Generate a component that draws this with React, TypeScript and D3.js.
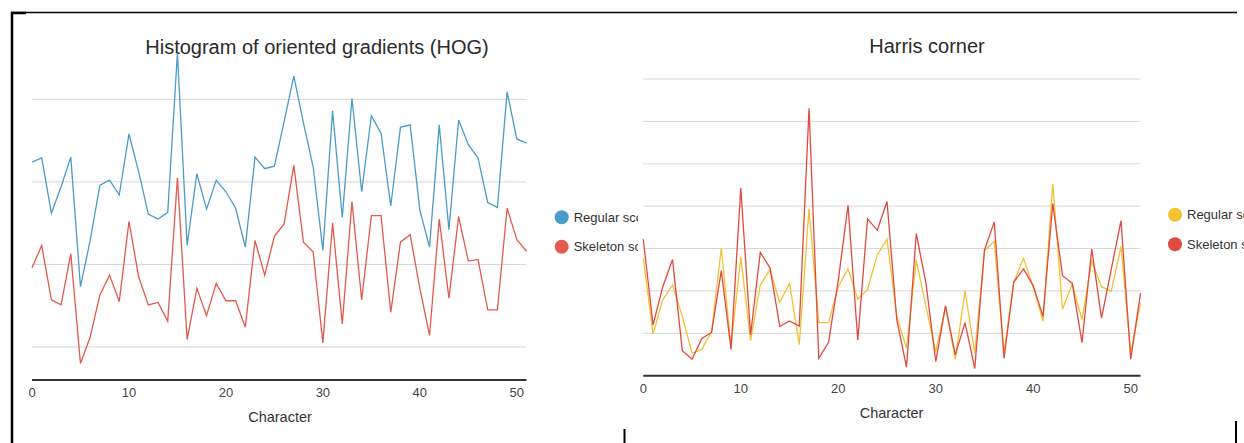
import { useEffect, useRef } from "react";
import * as d3 from "d3";

// values, one per character 0..51
const hogRegular = [
  3.24, 3.29, 2.62, 2.94, 3.3, 1.73, 2.29, 2.96, 3.02, 2.84, 3.58, 3.12, 2.61,
  2.55, 2.63, 4.56, 2.23, 3.1, 2.67, 3.02, 2.88, 2.68, 2.21, 3.3, 3.16, 3.19,
  3.73, 4.28, 3.71, 3.18, 2.17, 3.86, 2.57, 4.01, 2.88, 3.8, 3.59, 2.71, 3.66,
  3.69, 2.66, 2.21, 3.69, 2.42, 3.75, 3.45, 3.29, 2.75, 2.69, 4.09, 3.52, 3.47,
];
const hogSkeleton = [
  1.96, 2.23, 1.57, 1.51, 2.13, 0.8, 1.12, 1.63, 1.87, 1.55, 2.52, 1.85, 1.51,
  1.54, 1.31, 3.05, 1.09, 1.71, 1.38, 1.77, 1.56, 1.56, 1.24, 2.29, 1.87, 2.34,
  2.49, 3.2, 2.27, 2.15, 1.05, 2.5, 1.28, 2.76, 1.57, 2.59, 2.59, 1.42, 2.27,
  2.36, 1.71, 1.14, 2.55, 1.59, 2.58, 2.04, 2.06, 1.45, 1.45, 2.68, 2.3, 2.16,
];
const harrisRegular = [
  2.77, 0.98, 1.79, 2.14, 1.4, 0.53, 0.62, 1.04, 3.01, 0.69, 2.8, 0.83, 2.14,
  2.5, 1.73, 2.18, 0.73, 3.94, 1.25, 1.25, 2.1, 2.52, 1.81, 2.03, 2.85, 3.22,
  1.4, 0.65, 2.72, 1.63, 0.57, 1.63, 0.39, 2.0, 0.53, 2.95, 3.17, 0.53, 2.21,
  2.77, 2.1, 1.28, 4.53, 1.57, 2.17, 1.32, 2.7, 2.1, 1.99, 3.05, 0.53, 1.71,
];
const harrisSkeleton = [
  3.22, 1.2, 2.1, 2.74, 0.59, 0.39, 0.88, 1.02, 2.48, 0.62, 4.43, 0.96, 2.91,
  2.54, 1.16, 1.29, 1.17, 6.31, 0.41, 0.79, 2.25, 4.02, 0.84, 3.7, 3.43, 4.11,
  1.32, 0.2, 3.35, 2.18, 0.33, 1.65, 0.49, 1.25, 0.17, 2.97, 3.63, 0.41, 2.21,
  2.52, 2.12, 1.4, 4.06, 2.36, 2.18, 0.78, 2.99, 1.36, 2.51, 3.66, 0.39, 1.95,
];
const xTicks = [0, 10, 20, 30, 40, 50];
const hogGrid = [1, 2, 3, 4];
const harrisGrid = [1, 2, 3, 4, 5, 6, 7];
const seriesNames = ["Regular score", "Skeleton score"];

const font = "Arial, 'Liberation Sans', sans-serif";

type Panel = {
  title: string;
  series: number[][];
  colors: string[];
  grid: number[];
  x0: number;
  x1: number;
  yDomain: [number, number];
  yRange: [number, number];
  titleX: number;
  titleY: number;
  tickY: number;
  labelX: number;
  labelY: number;
  legendX: number;
  legendY: number;
  clipRight: number;
};

const drawPanel = (
  svg: d3.Selection<SVGSVGElement, unknown, null, undefined>,
  p: Panel,
  id: string
) => {
  const x = d3.scaleLinear().domain([0, 51]).range([p.x0, p.x1]);
  const y = d3.scaleLinear().domain(p.yDomain).range(p.yRange);

  // the screenshot cuts the legend off at the panel edge
  svg
    .append("clipPath")
    .attr("id", id)
    .append("rect")
    .attr("x", 0)
    .attr("y", 0)
    .attr("width", p.clipRight)
    .attr("height", 443);

  const g = svg.append("g").attr("clip-path", `url(#${id})`);

  g.append("text")
    .text(p.title)
    .attr("x", p.titleX)
    .attr("y", p.titleY)
    .attr("text-anchor", "middle")
    .style("font-family", font)
    .style("font-size", "20px")
    .style("fill", "#2b2b2b");

  g.selectAll(".grid")
    .data(p.grid)
    .enter()
    .append("line")
    .attr("x1", p.x0)
    .attr("x2", p.x1)
    .attr("y1", (d) => y(d))
    .attr("y2", (d) => y(d))
    .style("stroke", "#d6d6d6")
    .style("stroke-width", 1);

  const line = d3
    .line<number>()
    .x((_, i) => x(i))
    .y((d) => y(d));

  p.series.forEach((s, k) => {
    g.append("path")
      .datum(s)
      .attr("d", line)
      .style("fill", "none")
      .style("stroke", p.colors[k])
      .style("stroke-width", 1.3)
      .style("stroke-linejoin", "miter");
  });

  // baseline
  g.append("line")
    .attr("x1", p.x0)
    .attr("x2", p.x1)
    .attr("y1", y(p.yDomain[0]))
    .attr("y2", y(p.yDomain[0]))
    .style("stroke", "#333")
    .style("stroke-width", 2);

  g.selectAll(".tick")
    .data(xTicks)
    .enter()
    .append("text")
    .text((d) => d)
    .attr("x", (d) => x(d))
    .attr("y", p.tickY)
    .attr("text-anchor", "middle")
    .style("font-family", font)
    .style("font-size", "13px")
    .style("fill", "#444");

  g.append("text")
    .text("Character")
    .attr("x", p.labelX)
    .attr("y", p.labelY)
    .attr("text-anchor", "middle")
    .style("font-family", font)
    .style("font-size", "14.5px")
    .style("fill", "#333");

  seriesNames.forEach((name, k) => {
    const ly = p.legendY + k * 29.5;
    g.append("circle")
      .attr("cx", p.legendX)
      .attr("cy", ly)
      .attr("r", 7)
      .style("fill", p.colors[k]);
    g.append("text")
      .text(name)
      .attr("x", p.legendX + 12)
      .attr("y", ly + 4.5)
      .style("font-family", font)
      .style("font-size", "13px")
      .style("fill", "#333");
  });
};

export default function App() {
  const ref = useRef<SVGSVGElement>(null);

  useEffect(() => {
    d3.select(ref.current).selectAll("*").remove();
    const svg = d3
      .select(ref.current)
      .attr("width", 1244)
      .attr("height", 443);

    svg
      .append("rect")
      .attr("width", 1244)
      .attr("height", 443)
      .style("fill", "#fff");

    drawPanel(
      svg,
      {
        title: "Histogram of oriented gradients (HOG)",
        series: [hogRegular, hogSkeleton],
        colors: ["#4a9cc7", "#e05a4e"],
        grid: hogGrid,
        x0: 32,
        x1: 526.5,
        yDomain: [0.6, 4],
        yRange: [380, 99.3],
        titleX: 317,
        titleY: 54,
        tickY: 397,
        labelX: 280,
        labelY: 422,
        legendX: 561.7,
        legendY: 217.3,
        clipRight: 638,
      },
      "clipHog"
    );

    drawPanel(
      svg,
      {
        title: "Harris corner",
        series: [harrisRegular, harrisSkeleton],
        colors: ["#f1c232", "#e04a3f"],
        grid: harrisGrid,
        x0: 643.3,
        x1: 1140.5,
        yDomain: [0, 7],
        yRange: [375.7, 79],
        titleX: 927,
        titleY: 53,
        tickY: 393,
        labelX: 891.5,
        labelY: 418,
        legendX: 1175,
        legendY: 214.7,
        clipRight: 1244,
      },
      "clipHarris"
    );

    // frame lines of the screenshot
    const frame = [
      { x1: 11, y1: 12.5, x2: 1237, y2: 12.5, w: 1.5 },
      { x1: 12, y1: 12, x2: 12, y2: 443, w: 2.5 },
      { x1: 11, y1: 13, x2: 26, y2: 13, w: 2.5 },
      { x1: 624.5, y1: 429, x2: 624.5, y2: 443, w: 2 },
      { x1: 1236, y1: 421, x2: 1236, y2: 443, w: 2 },
    ];
    svg
      .selectAll(".frame")
      .data(frame)
      .enter()
      .append("line")
      .attr("x1", (d) => d.x1)
      .attr("y1", (d) => d.y1)
      .attr("x2", (d) => d.x2)
      .attr("y2", (d) => d.y2)
      .style("stroke", "#000")
      .style("stroke-width", (d) => d.w);
  }, []);

  return (
    <svg
      ref={ref}
      style={{ position: "absolute", left: 0, top: 0, display: "block" }}
    ></svg>
  );
}
